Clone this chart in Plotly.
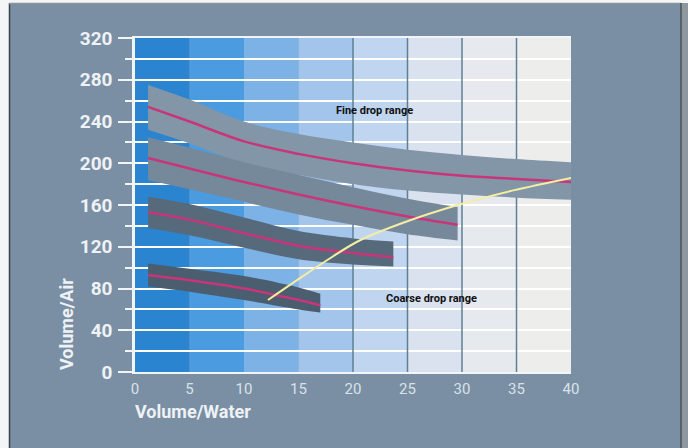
import plotly.graph_objects as go

# ---------------- data ----------------
zone_edges = [0, 5, 10, 15, 20, 25, 30, 35, 40]
zone_colors = ["#2b84d0", "#4b9be0", "#7cb2e6", "#a3c5ec", "#c0d5ef", "#d9e2ee", "#e6eaee", "#ededec"]
dark_vlines = [20, 25, 30, 35]

b1_x = [1.2, 5, 10, 15, 20, 25, 30, 35, 40]
b1_top = [275, 261, 240, 228, 220, 213, 208, 204, 201]
b1_mid = [254, 240, 221, 209, 200, 193, 188, 185, 182]
b1_bot = [232, 219, 200, 189, 180, 174, 170, 167, 165]

b2_x = [1.2, 5, 10, 15, 20, 25, 29.6]
b2_top = [225, 215, 201, 189, 177, 166, 158]
b2_mid = [205, 195, 182, 170, 159, 149, 141]
b2_bot = [184, 175, 163, 151, 141, 132, 126]

b3_x = [1.2, 5, 10, 15, 20, 23.7]
b3_top = [168, 161, 148, 135, 128, 125]
b3_mid = [153, 146, 133, 121, 114, 110]
b3_bot = [138, 131, 119, 108, 103, 101]

b4_x = [1.2, 5, 10, 15, 17]
b4_top = [104, 99, 92, 81, 75]
b4_mid = [93, 88, 80, 69, 64]
b4_bot = [82, 77, 69, 60, 57]

yellow_x = [12.2, 15, 17.9, 20.6, 24.6, 29.6, 34.7, 40]
yellow_y = [69, 89, 109, 126, 143, 160, 174, 186]

y_ticks = [0, 40, 80, 120, 160, 200, 240, 280, 320]
x_ticks = [0, 5, 10, 15, 20, 25, 30, 35, 40]

# ---------------- layout constants ----------------
W, H = 688, 448
L, R, T, B = 135, 117, 38, 76
PW, PH = W - L - R, H - T - B
def xp(px):
    return (px - L) / PW
def yp(py):
    return (H - B - py) / PH

FONT = "Roboto, Liberation Sans, sans-serif"
BG = "#7a8fa3"

fig = go.Figure()

bands = [
    (b1_x, b1_top, b1_mid, b1_bot, "#8296a8"),
    (b2_x, b2_top, b2_mid, b2_bot, "#76899b"),
    (b3_x, b3_top, b3_mid, b3_bot, "#566a7b"),
    (b4_x, b4_top, b4_mid, b4_bot, "#4b5e6f"),
]
for bx, bt, bm, bb, col in bands:
    fig.add_trace(go.Scatter(x=bx, y=bt, mode="lines", line=dict(width=0, shape="spline", color=col),
                             hoverinfo="skip", showlegend=False))
    fig.add_trace(go.Scatter(x=bx, y=bb, mode="lines", fill="tonexty", fillcolor=col,
                             line=dict(width=0, shape="spline", color=col),
                             hoverinfo="skip", showlegend=False))
    fig.add_trace(go.Scatter(x=bx, y=bm, mode="lines", line=dict(width=2.5, shape="spline", color="#c8357a"),
                             showlegend=False))

fig.add_trace(go.Scatter(x=yellow_x, y=yellow_y, mode="lines",
                         line=dict(width=2, shape="spline", color="#f3eea2"), showlegend=False))

shapes = []
for i, c in enumerate(zone_colors):
    shapes.append(dict(type="rect", xref="x", yref="y", x0=zone_edges[i], x1=zone_edges[i + 1],
                       y0=0, y1=320, fillcolor=c, line=dict(width=0), layer="below"))
for v in dark_vlines:
    shapes.append(dict(type="line", xref="x", yref="y", x0=v, x1=v, y0=0, y1=320,
                       line=dict(color="#5f7f95", width=1.5), layer="between"))
# outer frame
shapes += [
    dict(type="rect", xref="paper", yref="paper", x0=xp(0), x1=xp(9), y0=yp(H), y1=yp(0),
         fillcolor="#f4f5f6", line=dict(width=0), layer="above"),
    dict(type="rect", xref="paper", yref="paper", x0=xp(0), x1=xp(W), y0=yp(3), y1=yp(0),
         fillcolor="#f4f5f6", line=dict(width=0), layer="above"),
    dict(type="rect", xref="paper", yref="paper", x0=xp(681), x1=xp(W), y0=yp(H), y1=yp(3),
         fillcolor="#8e969e", line=dict(width=0), layer="above"),
    dict(type="line", xref="paper", yref="paper", x0=xp(9.5), x1=xp(9.5), y0=yp(H), y1=yp(3),
         line=dict(color="#39424b", width=1.5), layer="above"),
    dict(type="line", xref="paper", yref="paper", x0=xp(9), x1=xp(681), y0=yp(3.5), y1=yp(3.5),
         line=dict(color="#8c9298", width=1.5), layer="above"),
    dict(type="line", xref="paper", yref="paper", x0=xp(681), x1=xp(681), y0=yp(H), y1=yp(3),
         line=dict(color="#4a535c", width=1.5), layer="above"),
]

annotations = [
    dict(x=22, y=251, xref="x", yref="y", text="<b>Fine drop range</b>", showarrow=False,
         font=dict(family=FONT, size=11, color="#111111")),
    dict(x=27.2, y=70, xref="x", yref="y", text="<b>Coarse drop range</b>", showarrow=False,
         font=dict(family=FONT, size=11, color="#111111")),
    dict(x=xp(66), y=yp(324), xref="paper", yref="paper", text="<b>Volume/Air</b>", showarrow=False,
         xanchor="center", yanchor="middle",
         textangle=-90, font=dict(family=FONT, size=18, color="#eef2f6")),
    dict(x=xp(133), y=yp(411), xref="paper", yref="paper", text="<b>Volume/Water</b>", showarrow=False,
         xanchor="left", yanchor="middle", font=dict(family=FONT, size=18, color="#eef2f6")),
]

fig.update_layout(
    width=W, height=H,
    margin=dict(l=L, r=R, t=T, b=B),
    paper_bgcolor=BG, plot_bgcolor=BG,
    showlegend=False,
    shapes=shapes,
    annotations=annotations,
    xaxis=dict(range=[0, 40], tickvals=x_ticks, ticktext=[str(v) for v in x_ticks],
               showgrid=False, zeroline=False, showline=True, linecolor="#f2f5f8", linewidth=2,
               mirror=True, ticks="", ticklabelstandoff=2,
               tickfont=dict(family=FONT, size=15, color="#d9e2ea")),
    yaxis=dict(range=[0, 320], tickvals=y_ticks, ticktext=[str(v) for v in y_ticks],
               showgrid=True, gridcolor="#ffffff", gridwidth=1.5, zeroline=False,
               showline=True, linecolor="#f2f5f8", linewidth=2.5,
               ticks="outside", ticklen=14, tickcolor="#f2f5f8", tickwidth=1.5, ticklabelstandoff=2,
               minor=dict(dtick=20, tick0=0, ticks="outside", ticklen=7, tickcolor="#f2f5f8",
                          showgrid=True, gridcolor="#ffffff", gridwidth=1.5),
               tickfont=dict(family=FONT, size=19, color="#eef2f6", weight="bold")),
)

fig.write_html("out.html", config={"displayModeBar": False},
               post_script="document.body.style.margin='0';document.body.style.overflow='hidden';")
